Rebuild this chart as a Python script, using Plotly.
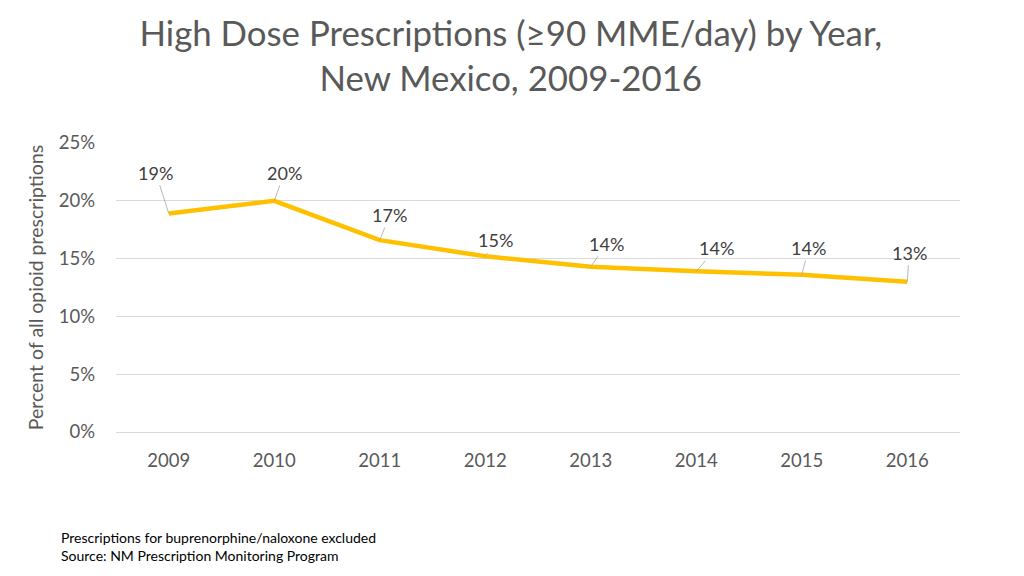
import plotly.graph_objects as go

# Data
years = ["2009", "2010", "2011", "2012", "2013", "2014", "2015", "2016"]
pct_high_dose = [18.9, 20.0, 16.6, 15.2, 14.3, 13.9, 13.6, 13.0]
point_labels = ["19%", "20%", "17%", "15%", "14%", "14%", "14%", "13%"]
y_ticks = [0, 5, 10, 15, 20, 25]
y_tick_text = ["0%", "5%", "10%", "15%", "20%", "25%"]

# label offsets in pixels (leader line styling)
label_dx = [-13, 10, 10, 10, 16, 20, 7, 2]
label_dy = [-41, -28, -25, -16, -23, -23, -27, -29]

font = "Lato, Calibri, Arial, sans-serif"

fig = go.Figure()
fig.add_trace(go.Scatter(
    x=years, y=pct_high_dose, mode="lines",
    line=dict(color="#FFC000", width=4.5),
    hoverinfo="skip", showlegend=False,
))

# data labels with thin leader lines (category index used for x)
for i, (val, lab, dx, dy) in enumerate(zip(pct_high_dose, point_labels, label_dx, label_dy)):
    fig.add_annotation(
        x=i, y=val, text=lab, showarrow=True, arrowhead=0,
        arrowwidth=0.8, arrowcolor="#A6A6A6", ax=dx, ay=dy,
        font=dict(size=18, color="#404040", family=font),
    )

fig.add_annotation(
    xref="paper", yref="paper", x=-0.067, y=-0.327, xanchor="left", yanchor="top",
    text="Prescriptions for buprenorphine/naloxone excluded<br>Source: NM Prescription Monitoring Program",
    showarrow=False, align="left",
    font=dict(size=14, color="#000000", family=font),
)

fig.update_layout(
    width=1024, height=576,
    paper_bgcolor="white", plot_bgcolor="white",
    margin=dict(l=108, r=72, t=135, b=152),
    title=dict(
        text="High Dose Prescriptions (≥90 MME/day) by Year,<br>New Mexico, 2009-2016",
        x=0.491, xanchor="center", y=0.934, yanchor="top",
        font=dict(size=34.8, color="#595959", family=font),
    ),
    xaxis=dict(
        type="category", range=[-0.5, 7.5], showgrid=False,
        showline=True, linecolor="#D9D9D9", linewidth=1,
        ticks="", tickfont=dict(size=18.5, color="#595959", family=font),
        ticklabelstandoff=12,
    ),
    yaxis=dict(
        range=[0, 25], tickvals=y_ticks, ticktext=y_tick_text,
        showgrid=True, gridcolor="#D9D9D9", gridwidth=1, zeroline=False,
        tickfont=dict(size=18.5, color="#595959", family=font),
        ticklabelstandoff=20,
        title=dict(text="Percent of all opioid prescriptions",
                   font=dict(size=19.5, color="#595959", family=font), standoff=9),
    ),
)

fig.write_html("out.html")
